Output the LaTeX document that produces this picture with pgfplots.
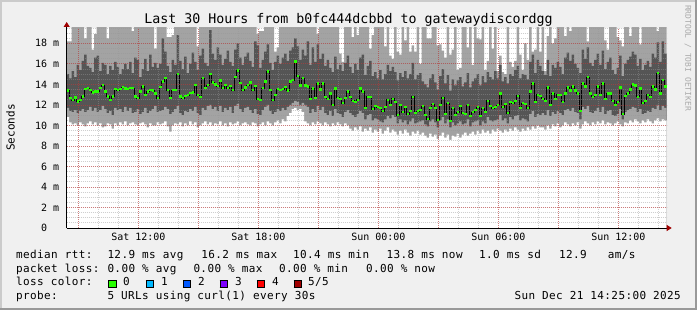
\documentclass[border=0pt]{standalone}
\usepackage{fontspec}
\setmainfont{DejaVu Sans Mono}
\newfontfamily\legfont[LetterSpace=3.5]{DejaVu Sans Mono}
\usepackage{pgfplots}
\usepackage{pgfplotstable}
\pgfplotsset{compat=1.18}
\usetikzlibrary{arrows.meta}
\definecolor{bgc}{HTML}{F0F0F0}
\definecolor{shadea}{HTML}{CBCBCB}
\definecolor{shadeb}{HTML}{999999}
\definecolor{lgray}{HTML}{A3A3A3}
\definecolor{dgray}{HTML}{555555}
\definecolor{lc0}{HTML}{26FF00}
\definecolor{lc1}{HTML}{00B8FF}
\definecolor{lc2}{HTML}{0059FF}
\definecolor{lc3}{HTML}{7E00FF}
\definecolor{lc4}{HTML}{FF0000}
\definecolor{lc5}{HTML}{A10000}
\definecolor{arrowred}{HTML}{A00000}
\definecolor{gridred}{HTML}{C80000}
\definecolor{gridgray}{HTML}{969696}
\definecolor{credit}{HTML}{AAAAAA}
\newcommand\legtxt[1]{{\legfont\fontsize{11bp}{13bp}\selectfont #1}}
\newcommand\swatch[1]{\raisebox{-1.5bp}{\setlength\fboxsep{0pt}\setlength\fboxrule{0.8bp}\fcolorbox{black}{#1}{\rule{0pt}{6.6bp}\rule{6.6bp}{0pt}}}}

% x = slot index (7.5 min per slot, start Sat 08:25), lt/dt/db/lb = smoke edges, med = median rtt (ms)
\pgfplotstableread{
x lt dt med db lb
0 18.2 15.0 13.40 11.7 10.8
1 18.2 14.6 12.65 11.4 10.3
2 19.6 15.3 12.49 11.3 10.1
3 19.6 14.7 12.72 11.5 10.2
4 19.6 15.9 12.33 11.2 10.0
5 19.6 15.4 12.49 11.4 10.3
6 19.6 16.3 12.81 11.6 10.1
7 18.5 16.9 13.53 11.3 9.9
8 19.6 15.8 13.63 11.5 10.2
9 19.6 15.6 13.46 11.8 10.4
10 17.4 15.2 13.20 11.4 10.1
11 18.9 16.6 13.30 11.7 10.3
12 19.6 16.8 13.30 11.3 10.0
13 19.6 15.3 13.63 11.5 10.2
14 19.6 16.1 13.95 11.9 9.8
15 19.6 15.9 13.30 11.6 9.9
16 18.5 15.0 12.81 11.2 10.2
17 19.6 15.8 12.49 11.4 10.1
18 19.6 15.4 12.81 11.0 9.7
19 19.6 16.2 13.53 11.7 10.2
20 19.6 15.7 13.46 11.5 10.0
21 19.6 15.0 13.53 11.6 10.3
22 19.6 15.5 13.72 11.3 10.1
23 19.6 16.0 13.60 11.8 10.4
24 19.6 15.5 13.53 11.4 10.0
25 19.6 16.2 13.63 11.7 10.2
26 19.2 15.1 13.63 11.2 10.3
27 19.6 16.6 12.81 11.3 10.1
28 19.6 16.4 12.65 11.6 10.0
29 19.6 14.7 13.30 11.1 10.2
30 19.6 15.5 13.79 11.3 10.3
31 19.6 16.5 12.98 11.7 10.1
32 19.6 15.3 13.30 11.2 9.8
33 19.6 16.9 13.46 11.4 10.2
34 19.6 15.7 13.40 11.6 10.0
35 17.5 16.1 13.10 11.9 10.0
36 19.6 15.6 12.65 11.3 10.3
37 19.6 16.0 13.72 11.4 10.1
38 19.6 18.5 14.28 11.5 10.2
39 19.6 17.2 14.60 11.8 10.4
40 18.6 15.8 13.46 11.6 9.9
41 18.6 15.2 12.65 11.1 9.4
42 18.8 16.4 13.46 11.3 10.0
43 19.6 15.9 13.46 11.6 10.2
44 19.6 18.8 15.02 11.9 10.1
45 19.6 16.3 12.81 11.2 10.3
46 19.6 15.5 12.65 11.0 9.9
47 19.6 16.7 12.90 11.4 10.2
48 19.6 15.1 12.98 11.3 10.0
49 19.6 16.0 13.14 11.6 10.4
50 19.6 17.1 13.20 11.4 10.1
51 19.6 16.2 13.95 11.8 10.3
52 17.7 15.4 12.98 11.2 9.8
53 19.6 16.8 12.75 11.0 10.0
54 19.6 17.5 14.60 11.7 10.2
55 19.6 16.1 13.63 11.5 10.4
56 19.6 15.8 13.95 11.9 10.1
57 19.6 19.3 15.02 12.0 10.3
58 19.6 17.0 14.18 11.6 10.0
59 19.6 16.4 14.00 11.8 10.2
60 19.6 17.6 13.85 11.4 10.1
61 19.6 16.9 14.37 11.9 10.4
62 19.6 15.9 13.63 11.3 10.0
63 19.6 16.5 13.95 11.7 10.2
64 19.6 17.3 13.63 11.5 9.9
65 19.6 16.2 13.85 11.8 10.3
66 19.6 15.8 13.46 11.2 10.1
67 19.6 17.4 14.70 11.9 10.2
68 19.6 18.0 15.35 12.1 10.4
69 19.6 16.6 14.11 11.6 10.0
70 19.6 15.9 13.46 11.3 10.2
71 19.6 16.7 13.70 11.7 10.3
72 19.6 17.1 13.95 11.8 10.1
73 19.6 16.3 14.18 11.5 10.0
74 19.6 15.7 13.46 11.2 10.3
75 19.6 18.2 13.85 11.6 10.2
76 18.9 17.8 12.55 11.1 9.9
77 19.2 15.6 12.49 11.0 10.1
78 19.2 16.4 13.63 11.5 10.3
79 19.6 17.2 14.28 11.8 10.0
80 19.6 17.9 15.25 12.0 10.4
81 19.6 16.1 13.46 11.4 10.2
82 19.6 15.4 12.49 11.1 10.0
83 17.2 16.2 13.00 11.3 10.3
84 17.6 16.8 13.53 11.6 10.5
85 19.6 16.0 13.46 11.4 10.2
86 19.6 16.6 13.53 11.7 10.6
87 19.6 17.0 13.72 11.5 10.4
88 19.6 16.3 13.40 11.8 10.9
89 19.6 17.3 14.28 12.0 11.2
90 19.6 17.6 14.44 12.2 11.6
91 19.6 18.5 16.23 12.4 11.7
92 19.6 17.7 14.83 12.3 11.5
93 19.6 16.4 13.90 12.0 11.6
94 19.6 17.4 14.6 12.2 11.3
95 19.6 16.8 13.9 12.0 10.4
96 19.6 18.2 13.8 11.8 10.2
97 19.6 15.9 12.6 11.2 10.0
98 19.6 17.6 13.6 11.6 10.3
99 19.6 16.2 12.7 11.3 10.1
100 18.9 17.9 14.1 11.9 10.4
101 19.6 16.5 13.5 11.5 10.2
102 19.6 17.0 14.1 11.8 10.0
103 19.6 15.8 12.8 11.2 10.3
104 19.6 16.4 12.6 11.0 10.1
105 19.6 15.6 13.1 11.4 9.9
106 19.6 15.2 12.0 10.9 10.2
107 19.6 16.7 13.6 11.6 10.0
108 19.6 15.5 12.7 11.2 10.3
109 17.0 15.9 12.6 11.1 10.1
110 16.2 15.3 12.2 10.8 9.9
111 19.6 16.1 12.7 11.3 10.2
112 19.6 16.8 13.3 11.5 10.0
113 19.6 15.7 12.8 11.2 9.7
114 18.6 15.1 12.4 11.0 9.5
115 19.6 16.0 12.3 10.8 9.8
116 18.8 15.4 12.5 11.1 9.6
117 19.6 16.6 13.6 11.4 9.9
118 19.6 16.9 13.3 11.2 9.4
119 19.6 14.9 11.7 10.6 9.7
120 19.6 15.8 12.8 11.0 9.5
121 17.5 16.3 12.8 11.1 9.8
122 18.8 14.8 11.6 10.5 9.3
123 19.6 15.2 11.9 10.7 9.6
124 19.6 14.6 11.8 10.6 9.4
125 19.6 15.4 11.7 10.4 9.7
126 19.6 14.5 11.4 10.3 9.2
127 17.7 15.0 11.8 10.6 9.5
128 19.6 15.9 12.5 10.9 9.8
129 16.8 15.3 12.0 10.7 9.3
130 16.5 15.7 12.6 11.0 9.6
131 19.6 15.2 12.3 10.8 9.4
132 17.2 14.4 11.0 10.2 9.1
133 16.9 15.1 12.0 10.6 9.5
134 19.6 14.7 11.3 10.3 9.2
135 18.3 15.3 11.8 10.5 9.6
136 19.6 14.6 11.1 10.1 9.3
137 17.2 15.0 11.4 10.4 9.0
138 17.8 16.1 12.8 10.7 9.4
139 17.2 14.5 11.2 10.2 9.2
140 19.6 14.9 11.4 10.3 9.5
141 16.0 15.1 11.5 10.4 9.1
142 19.6 14.3 11.9 10.5 9.3
143 19.6 14.0 11.0 10.1 9.0
144 18.5 13.7 10.6 9.9 8.8
145 18.5 14.6 11.7 10.4 9.2
146 19.6 15.0 12.1 10.6 8.9
147 19.6 14.2 11.7 10.3 9.1
148 17.8 13.5 10.5 9.8 8.7
149 17.9 14.8 12.0 10.5 9.0
150 17.3 15.5 12.7 10.8 9.3
151 16.6 14.1 11.1 10.2 8.8
152 19.6 14.9 12.2 10.6 9.1
153 16.9 13.4 10.4 9.8 8.6
154 17.4 14.5 11.7 10.3 9.0
155 19.6 13.9 11.0 10.0 8.9
156 15.4 14.4 11.3 10.2 9.2
157 15.6 14.7 11.9 10.4 8.8
158 19.6 13.8 11.2 10.1 9.1
159 19.6 14.2 11.1 10.2 9.3
160 17.6 15.1 12.0 10.6 9.0
161 19.6 13.7 10.9 9.9 9.2
162 15.9 14.3 11.3 10.3 9.4
163 19.6 14.6 11.5 10.4 9.1
164 18.5 15.0 11.8 10.5 9.5
165 18.4 13.9 10.9 10.0 9.2
166 19.6 14.8 11.7 10.4 9.6
167 15.4 14.2 11.3 10.2 9.3
168 16.3 15.2 12.4 10.8 9.5
169 19.6 14.7 11.9 10.5 9.2
170 17.5 14.5 11.7 10.4 9.6
171 19.6 15.3 11.8 10.5 9.4
172 15.3 14.6 12.0 10.6 9.7
173 16.8 15.9 13.1 11.0 9.5
174 15.2 14.3 11.8 10.5 9.3
175 15.0 14.7 12.1 10.7 9.6
176 19.6 14.1 11.2 10.2 9.4
177 16.2 15.0 12.3 10.8 9.7
178 15.7 14.8 12.2 10.6 9.5
179 16.3 15.4 12.4 10.9 9.8
180 19.6 15.8 12.9 11.0 9.6
181 16.9 14.6 11.7 10.5 9.4
182 15.4 15.0 12.2 10.7 9.7
183 18.0 14.9 12.1 10.6 9.5
184 16.4 14.5 11.7 10.4 9.8
185 19.6 16.2 13.3 11.1 9.6
186 17.2 16.9 14.1 11.4 9.9
187 17.4 15.1 12.3 10.8 9.7
188 19.6 16.4 13.0 11.1 10.0
189 17.2 15.8 12.9 11.0 9.8
190 19.6 15.3 12.6 11.2 9.8
191 15.3 14.9 12.4 11.0 9.6
192 18.7 16.4 13.7 11.5 10.0
193 19.6 14.8 12.0 10.9 9.7
194 18.0 15.9 13.1 11.3 10.1
195 18.5 15.6 12.6 11.1 9.9
196 19.6 16.2 13.0 11.4 10.2
197 19.6 15.7 13.0 11.2 9.8
198 19.6 15.0 12.3 11.0 10.0
199 18.7 16.6 13.1 11.5 10.3
200 19.6 17.1 13.7 11.6 10.1
201 19.2 16.3 13.4 11.4 9.9
202 19.6 16.9 13.8 11.7 10.2
203 19.6 16.0 13.4 11.3 10.0
204 19.6 15.6 13.1 11.2 10.3
205 19.6 15.1 11.4 10.6 9.7
206 19.6 17.4 14.1 11.8 10.1
207 19.6 16.5 13.8 11.6 10.4
208 18.2 17.6 14.7 11.9 10.2
209 19.6 16.1 13.1 11.3 10.0
210 19.6 15.8 12.8 11.2 10.3
211 19.6 16.4 13.0 11.4 10.1
212 19.6 17.0 13.8 11.7 10.4
213 19.6 15.9 13.0 11.3 10.2
214 19.6 17.3 14.1 11.8 10.5
215 18.3 15.5 12.6 11.1 10.1
216 17.4 16.2 13.1 11.4 10.3
217 19.6 16.6 13.1 11.5 10.2
218 19.6 15.4 12.4 11.0 10.0
219 19.6 15.0 12.0 10.9 10.2
220 18.6 15.6 12.3 11.1 10.4
221 18.3 16.8 13.7 11.6 10.1
222 17.7 14.8 11.1 10.6 9.9
223 19.6 16.0 12.9 11.3 10.3
224 19.6 16.4 13.1 11.5 10.2
225 18.7 16.7 13.5 11.6 10.5
226 19.6 17.2 14.0 11.8 10.3
227 19.6 16.9 13.9 11.7 10.6
228 19.6 15.8 12.8 11.3 10.4
229 17.9 16.5 13.6 11.6 10.2
230 19.6 15.4 12.2 11.1 10.5
231 19.6 15.9 12.4 11.2 10.3
232 19.6 16.3 13.0 11.4 10.6
233 19.6 15.7 12.8 11.3 10.4
234 19.6 17.0 13.8 11.7 10.2
235 19.6 16.6 13.5 11.6 10.5
236 19.2 18.1 15.1 12.0 10.7
237 19.6 16.2 13.1 11.5 10.4
238 19.6 18.2 14.4 11.9 10.6
239 19.6 17.0 13.8 11.7 10.5
240 19.6 17.0 13.8 11.7 10.5
}\smoke

\begin{document}
\begin{tikzpicture}
\useasboundingbox (0,0) rectangle (697bp,310bp);
\fill[bgc] (0,0) rectangle (697bp,310bp);
\fill[shadea] (0,0) rectangle (2bp,310bp);
\fill[shadea] (0,308bp) rectangle (697bp,310bp);
\fill[shadeb] (695bp,0) rectangle (697bp,310bp);
\fill[shadeb] (0,0) rectangle (697bp,2bp);

\begin{axis}[
  at={(66.7bp,82bp)}, anchor=south west,
  scale only axis, width=600bp, height=200bp,
  xmin=0, xmax=240, ymin=0, ymax=19.5,
  axis background/.style={fill=white},
  axis lines=left,
  axis line style={line width=0.8bp, black},
  x axis line style={-{Triangle[length=5bp,width=6bp,color=arrowred]}, shorten >=-5bp},
  y axis line style={-{Triangle[length=5bp,width=6bp,color=arrowred]}, shorten >=-6bp},
  axis on top,
  grid=both,
  major grid style={draw=gridred, draw opacity=0.4, line width=0.8bp, dash pattern=on 1bp off 1bp},
  minor grid style={draw=gridgray, draw opacity=0.45, line width=0.8bp, dash pattern=on 1bp off 1bp},
  major tick length=0pt, minor tick length=0pt,
  xtick={4.6667,28.6667,52.6667,76.6667,100.6667,124.6667,148.6667,172.6667,196.6667,220.6667},
  xticklabels={,Sat 12:00,,Sat 18:00,,Sun 00:00,,Sun 06:00,,Sun 12:00},
  minor xtick={4.6667,12.6667,...,236.6667},
  ytick={0,2,...,18},
  yticklabels={{0\hphantom{~m}},{2 m},{4 m},{6 m},{8 m},{10 m},{12 m},{14 m},{16 m},{18 m}},
  minor ytick={0.5,1,...,19.5},
  tick label style={font=\fontsize{10bp}{12bp}\selectfont},
  xticklabel style={anchor=base, inner sep=0pt, yshift=-13bp},
  yticklabel style={anchor=base east, inner sep=0pt, xshift=-7.4bp, yshift=-3.6bp},
]
\addplot[fill=lgray, draw=none, const plot mark left] table[x=x, y=lt] {\smoke} \closedcycle;
\addplot[fill=dgray, draw=none, const plot mark left] table[x=x, y=dt] {\smoke} \closedcycle;
\addplot[fill=lgray, draw=none, const plot mark left] table[x=x, y=db] {\smoke} \closedcycle;
\addplot[fill=white, draw=none, const plot mark left] table[x=x, y=lb] {\smoke} \closedcycle;
\addplot[black, line width=0.7bp, const plot mark mid, skip coords between index={240}{241}]
  table[x expr=\thisrow{x}+0.5, y=med] {\smoke};
\addplot[only marks, mark=-, mark size=1.3bp, mark options={draw=lc0, line width=2.3bp, line cap=butt}, skip coords between index={240}{241}]
  table[x expr=\thisrow{x}+0.5, y=med] {\smoke};
\end{axis}

% title, axis label, credit
\node[anchor=base, inner sep=0pt, font=\fontsize{13.3bp}{16bp}\selectfont] at (348.5bp,286bp) {Last 30 Hours from b0fc444dcbbd to gatewaydiscordgg};
\node[rotate=90, inner sep=0pt, font=\fontsize{11bp}{13bp}\selectfont] at (10.5bp,182.5bp) {Seconds};
\node[rotate=-90, inner sep=0pt, text=credit, font=\fontsize{8bp}{10bp}\selectfont] at (688bp,252bp) {RRDTOOL / TOBI OETIKER};

% legend
\begin{scope}[every node/.style={anchor=base west, inner sep=0pt}]
\node at (16bp,51.8bp) {\legtxt{median rtt:}};
\node at (107.3bp,51.8bp) {\legtxt{12.9 ms avg}};
\node at (201.2bp,51.8bp) {\legtxt{16.2 ms max}};
\node at (293bp,51.8bp) {\legtxt{10.4 ms min}};
\node at (386.5bp,51.8bp) {\legtxt{13.8 ms now}};
\node at (479bp,51.8bp) {\legtxt{1.0 ms sd}};
\node at (559bp,51.8bp) {\legtxt{12.9}};
\node at (607.7bp,51.8bp) {\legtxt{am/s}};

\node at (16bp,38bp) {\legtxt{packet loss:}};
\node at (107.3bp,38bp) {\legtxt{0.00 \% avg}};
\node at (193.3bp,38bp) {\legtxt{0.00 \% max}};
\node at (279bp,38bp) {\legtxt{0.00 \% min}};
\node at (366bp,38bp) {\legtxt{0.00 \% now}};

\node at (16bp,24.2bp) {\legtxt{loss color:}};
\node at (108bp,24.2bp) {\swatch{lc0}};
\node at (123bp,24.2bp) {\legtxt{0}};
\node at (145.7bp,24.2bp) {\swatch{lc1}};
\node at (161bp,24.2bp) {\legtxt{1}};
\node at (182.7bp,24.2bp) {\swatch{lc2}};
\node at (198bp,24.2bp) {\legtxt{2}};
\node at (219.3bp,24.2bp) {\swatch{lc3}};
\node at (235bp,24.2bp) {\legtxt{3}};
\node at (256.7bp,24.2bp) {\swatch{lc4}};
\node at (272bp,24.2bp) {\legtxt{4}};
\node at (293.3bp,24.2bp) {\swatch{lc5}};
\node at (308bp,24.2bp) {\legtxt{5/5}};

\node at (16bp,10.4bp) {\legtxt{probe:}};
\node at (107.3bp,10.4bp) {\legtxt{5 URLs using curl(1) every 30s}};
\end{scope}
\node[anchor=base east, inner sep=0pt] at (681bp,10.4bp) {\legtxt{Sun Dec 21 14:25:00 2025}};
\end{tikzpicture}
\end{document}
